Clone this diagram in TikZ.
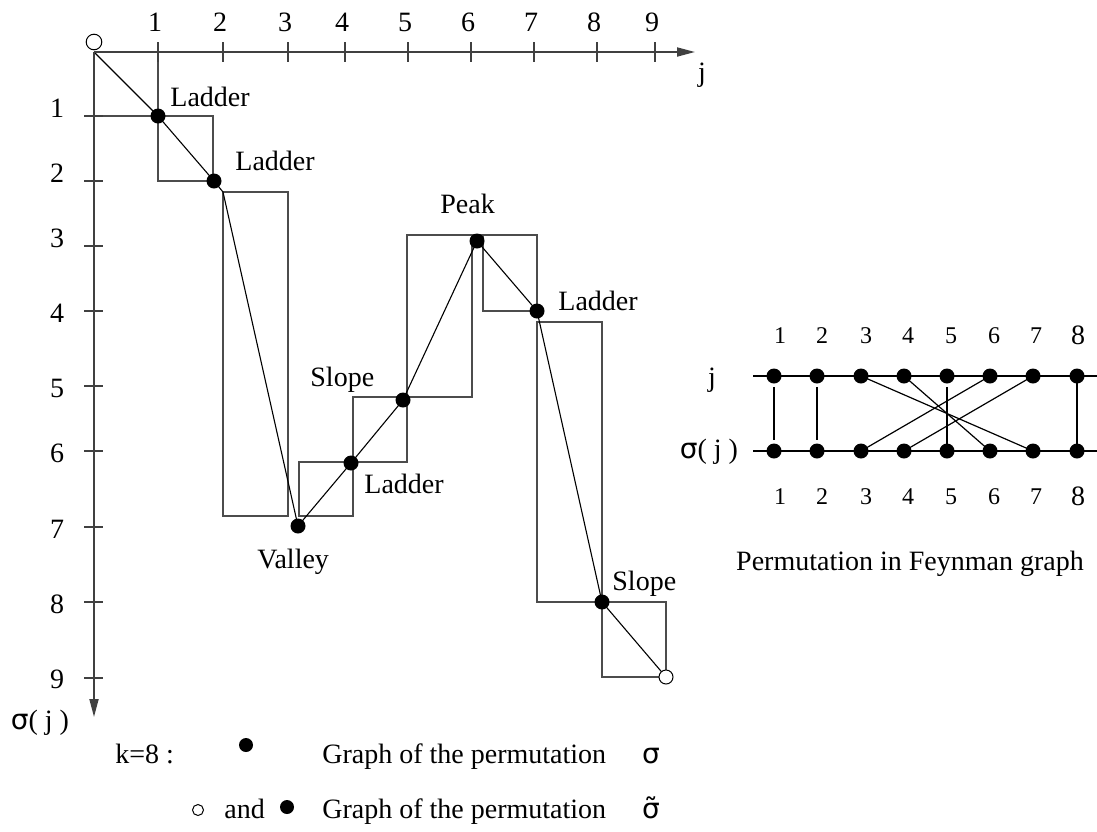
\documentclass[tikz,border=0pt]{standalone}
\usepackage{fontspec}
\setmainfont{Liberation Serif}
\newfontfamily\sigfont{DejaVu Sans}
\usetikzlibrary{arrows.meta}
\pgfdeclarelayer{bg}
\pgfsetlayers{bg,main}
\begin{document}
\begin{tikzpicture}[x=0.5pt,y=-0.5pt,
  axisline/.style={line width=0.9pt, black!75, -{Triangle[length=9pt,width=4.5pt]}},
  tk/.style={line width=0.8pt, black!75},
  rectline/.style={line width=0.55pt, black!70},
  graphline/.style={line width=0.55pt, black},
  fline/.style={line width=0.6pt, black},
  fdot/.style={circle, fill=black, inner sep=0pt, minimum size=7.5pt},
  odot/.style={circle, draw=black, line width=0.5pt, fill=white, inner sep=0pt, minimum size=7.8pt},
  lab/.style={font=\fontsize{14}{16}\selectfont, inner sep=0pt, anchor=base west},
  num/.style={font=\fontsize{14}{16}\selectfont, inner sep=0pt},
  fnum/.style={font=\fontsize{12}{14}\selectfont, inner sep=0pt},
  fnumb/.style={font=\fontsize{14}{16}\selectfont, inner sep=0pt},
  leg/.style={font=\fontsize{14}{16}\selectfont, inner sep=0pt, anchor=base west}]
\useasboundingbox (0,0) rectangle (1097,831);

% ---------- axes ----------
\coordinate (O) at (94,52);
\coordinate (Xend) at (695,52);
\coordinate (Yend) at (94,717);
\draw[axisline] (O) -- (Xend);
\draw[axisline] (O) -- (Yend);
\foreach \x/\n in {158/1,223/2,288/3,345/4,408/5,471/6,534/7,597/8,655/9}{
  \draw[tk] (\x,42) -- (\x,62);
  \node[num] (tx\n) at (\x-3,22) {\n};
}
\foreach \y/\n/\dy in {116/1/-8,181/2/-8,246/3/-8,311/4/2,386/5/2,451/6/2,527/7/2,602/8/2,678/9/1}{
  \draw[tk] (84,\y) -- (103,\y);
  \node[num] (ty\n) at (57,\y+\dy) {\n};
}
\node[lab, anchor=center] (jlab) at (702,75) {j};
\node[lab, anchor=center] (slab) at (40,723) {{\sigfont σ}( j )};

% ---------- points ----------
\node[odot] (o0) at (94,42) {};
\node[fdot] (d1) at (158,116) {};
\node[fdot] (d2) at (214,181) {};
\coordinate (c2) at (223,192);
\node[fdot] (d3) at (298,526) {};
\node[fdot] (d4) at (351,463) {};
\node[fdot] (d5) at (403,400) {};
\node[fdot] (d6) at (477,241) {};
\node[fdot] (d7) at (537,311) {};
\node[fdot] (d8) at (602,602) {};
\node[odot, minimum size=7pt] (o9) at (666,677) {};

\begin{pgfonlayer}{bg}
\draw[rectline] (158,52) -- (158,181) -- (213,181) -- (213,116) -- (94,116);
\draw[rectline] (223,192) rectangle (288,516);
\draw[rectline] (299,462) rectangle (353,516);
\draw[rectline] (353,397) rectangle (407,462);
\draw[rectline] (407,235) rectangle (472,397);
\draw[rectline] (472,235) -- (537,235) -- (537,311) -- (483,311) -- (483,235);
\draw[rectline] (537,322) rectangle (602,602);
\draw[rectline] (602,602) rectangle (666,677);
\draw[graphline] (O) -- (d1.center) -- (d2.center) -- (c2) -- (d3.center)
  -- (d4.center) -- (d5.center) -- (d6.center) -- (d7.center) -- (d8.center) -- (o9.center);
\end{pgfonlayer}

% ---------- labels ----------
\node[lab] (l1) at (170,106) {Ladder};
\node[lab] (l2) at (235,170) {Ladder};
\node[lab] (l6) at (440,213) {Peak};
\node[lab] (l5) at (310,386) {Slope};
\node[lab] (l4) at (364,493) {Ladder};
\node[lab] (l3) at (257,568) {Valley};
\node[lab] (l7) at (558,310) {Ladder};
\node[lab] (l8) at (612,590) {Slope};

% ---------- Feynman graph ----------
\draw[fline] (753,376) -- (1097,376);
\draw[fline] (753,451) -- (1097,451);
\foreach \x [count=\i] in {774,817,861,904,947,990,1033,1077}{
  \node[fdot] (t\i) at (\x,376) {};
  \node[fdot] (b\i) at (\x,451) {};
}
\foreach \x [count=\i] in {780,822,866,908,951,994,1036}{
  \node[fnum] (tn\i) at (\x,336) {\i};
  \node[fnum] (bn\i) at (\x,497) {\i};
}
\node[fnumb] (tn8) at (1078,335) {8};
\node[fnumb] (bn8) at (1078,496) {8};
\begin{pgfonlayer}{bg}
\draw[fline] ([yshift=-1.5pt]t1.south) -- ([yshift=1.5pt]b1.north);
\draw[fline] ([yshift=-1.5pt]t2.south) -- ([yshift=1.5pt]b2.north);
\draw[fline] ([yshift=-1.5pt]t5.south) -- (b5.center);
\draw[fline] (t8.center) -- (b8.center);
\draw[fline] (t3.center) -- (b7.center);
\draw[fline] (t4.center) -- (b6.center);
\draw[fline] (t6.center) -- (b3.center);
\draw[fline] (t7.center) -- (b4.center);
\end{pgfonlayer}
\node[lab, anchor=center] (fj) at (712,380) {j};
\node[lab, anchor=center] (fs) at (709,452) {{\sigfont σ}( j )};
\node[lab, anchor=base] (fcap) at (910,570) {Permutation in Feynman graph};

% ---------- legend ----------
\node[leg] (k8) at (115,763) {k=8 :};
\node[fdot, minimum size=7pt] (ldot1) at (246,745) {};
\node[leg] (g1) at (322,763) {Graph of the permutation};
\node[leg, anchor=base] (s1) at (651,763) {\sigfont σ};
\node[odot, minimum size=5.5pt] (lo) at (198,810) {};
\node[leg] (andt) at (224,818) {and};
\node[fdot, minimum size=7pt] (ldot2) at (287,807) {};
\node[leg] (g2) at (322,818) {Graph of the permutation};
\node[leg, anchor=base] (s2) at (651,818) {\sigfont σ̃};
\end{tikzpicture}
\end{document}
